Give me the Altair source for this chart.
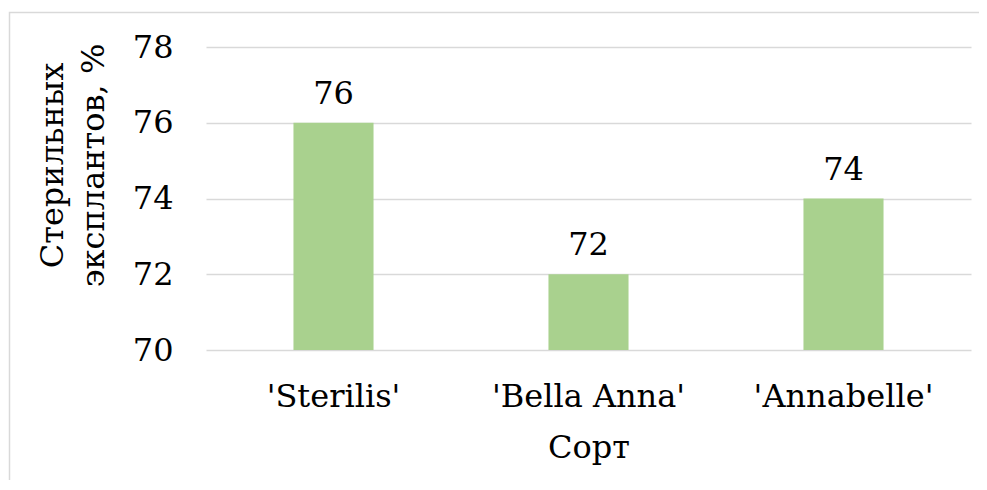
import altair as alt
import pandas as pd

categories = ["'Sterilis'", "'Bella Anna'", "'Annabelle'"]
values = [76, 72, 74]
y_ticks = [70, 72, 74, 76, 78]

df = pd.DataFrame({"cat": categories, "val": values})
frame_df = pd.DataFrame({"f": [0]})

FONT = "DejaVu Serif"
FS = 32
GRID = "#D9D9D9"
BAR = "#A9D18E"

x_enc = alt.X(
    "cat:N",
    sort=categories,
    scale=alt.Scale(paddingInner=0.686, paddingOuter=0.343),
    axis=alt.Axis(
        title="Сорт",
        labelAngle=0,
        labelFont=FONT,
        labelFontSize=FS,
        labelColor="black",
        labelBaseline="alphabetic",
        labelPadding=56,
        labelLimit=0,
        ticks=False,
        tickSize=0,
        domain=False,
        grid=False,
        titleFont=FONT,
        titleFontSize=FS,
        titleFontWeight="normal",
        titleColor="black",
        titleBaseline="alphabetic",
        titleY=107,
    ),
)

y_enc = alt.Y(
    "val:Q",
    scale=alt.Scale(domain=[70, 78], nice=False, zero=False),
    axis=alt.Axis(
        values=y_ticks,
        title=["Стерильных", "эксплантов, %"],
        labelFont=FONT,
        labelFontSize=FS,
        labelColor="black",
        labelPadding=33,
        ticks=False,
        tickSize=0,
        domain=False,
        grid=True,
        gridColor=GRID,
        gridWidth=1.5,
        titleFont=FONT,
        titleFontSize=FS,
        titleFontWeight="normal",
        titleColor="black",
        titleAngle=-90,
        titleAlign="center",
        titleBaseline="alphabetic",
        titleLineHeight=41,
        titleX=-144,
        titleY=118,
        titleLimit=0,
    ),
)

bars = alt.Chart(df).mark_bar(color=BAR).encode(
    x=x_enc,
    y=y_enc,
    y2=alt.datum(70),
)

labels = alt.Chart(df).mark_text(
    font=FONT, fontSize=FS, color="black", baseline="alphabetic", dy=-19
).encode(
    x=alt.X("cat:N", sort=categories),
    y=alt.Y("val:Q"),
    text=alt.Text("val:Q"),
)

frame = alt.Chart(frame_df).mark_rect(
    fill=None, stroke=GRID, strokeWidth=1.5, clip=False
).encode(
    x=alt.value(-196.5),
    x2=alt.value(800),
    y=alt.value(-34.5),
    y2=alt.value(500),
)

chart = (
    alt.layer(frame, bars, labels)
    .properties(
        width=765,
        height=303,
        autosize=alt.AutoSizeParams(type="none"),
        padding={"left": 198, "top": 39, "right": 8, "bottom": 130},
        background="white",
    )
    .configure_view(stroke=None)
)

chart.save("out.html", embed_options={"renderer": "svg", "actions": False})
